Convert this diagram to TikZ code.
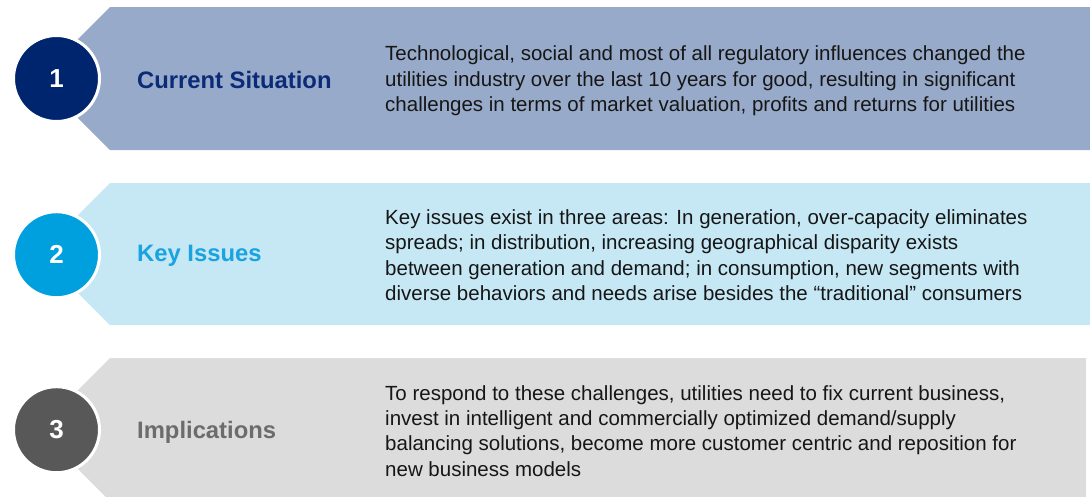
\documentclass[tikz,border=0pt]{standalone}
\usepackage{fontspec}
\setmainfont{Liberation Sans}
\definecolor{bandA}{HTML}{98AAC9}
\definecolor{circA}{HTML}{00256F}
\definecolor{titA}{HTML}{0B2B78}
\definecolor{bandB}{HTML}{C6E8F5}
\definecolor{circB}{HTML}{00A0DF}
\definecolor{titB}{HTML}{1AA3E0}
\definecolor{bandC}{HTML}{DCDCDC}
\definecolor{circC}{HTML}{585858}
\definecolor{titC}{HTML}{6C6C6C}
\definecolor{bodytxt}{HTML}{161616}
\begin{document}
\begin{tikzpicture}[x=1pt,y=-1pt,
  numcirc/.style={circle,minimum size=86pt,inner sep=0pt,draw=white,line width=3pt,text=white,font=\bfseries\fontsize{26}{30}\selectfont},
  titlelbl/.style={anchor=base west,inner sep=0pt,font=\bfseries\fontsize{23.8}{28}\selectfont},
  bodylbl/.style={anchor=base west,inner sep=0pt,align=left,text=bodytxt,font=\fontsize{20.5}{25.4}\selectfont}]
\useasboundingbox (0,0) rectangle (1090,496);
\begin{scope}
\clip (0,0) rectangle (1090,496);
% bands
\fill[bandA] (110,7) -- (1090,7) -- (1090,150) -- (110,150) -- (38.5,78.5) -- cycle;
\fill[bandB] (110,183) -- (1090,183) -- (1090,325) -- (110,325) -- (39,254) -- cycle;
\fill[bandC] (110,358) -- (1086,358) -- (1086,501) -- (110,501) -- (38.5,429.5) -- cycle;
\end{scope}
% circles
\node[numcirc,fill=circA] (c1) at (56.5,78.5) {1};
\node[numcirc,fill=circB] (c2) at (56.5,254.7) {2};
\node[numcirc,fill=circC] (c3) at (56.5,429.7) {3};
% titles
\node[titlelbl,text=titA] (t1) at (137,88.3) {Current Situation};
\node[titlelbl,text=titB] (t2) at (137,261.7) {Key Issues};
\node[titlelbl,text=titC] (t3) at (137,438.3) {Implications};
% bodies (anchored at the baseline of the last line)
\node[bodylbl] (b1) at (385,111.5) {Technological, social and most of all regulatory influences changed the\\utilities industry over the last 10 years for good, resulting in significant\\challenges in terms of market valuation, profits and returns for utilities};
\node[bodylbl] (b2) at (385,300.5) {Key issues exist in three areas: In generation, over-capacity eliminates\\spreads; in distribution, increasing geographical disparity exists\\between generation and demand; in consumption, new segments with\\diverse behaviors and needs arise besides the “traditional” consumers};
\node[bodylbl] (b3) at (385,476.2) {To respond to these challenges, utilities need to fix current business,\\invest in intelligent and commercially optimized demand/supply\\balancing solutions, become more customer centric and reposition for\\new business models};
\end{tikzpicture}
\end{document}
